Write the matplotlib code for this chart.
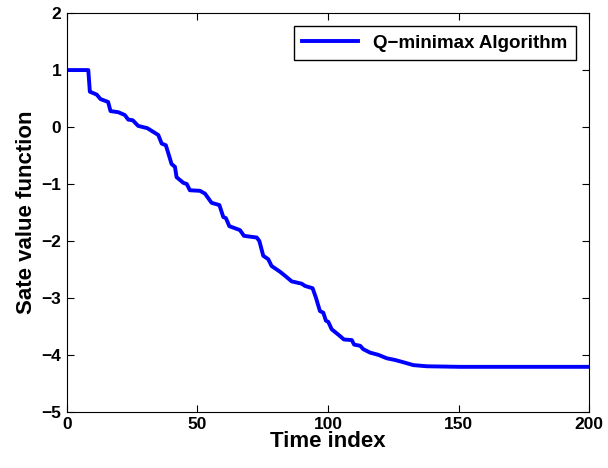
import numpy as np
import matplotlib.pyplot as plt

plt.rcParams['font.family'] = ['Liberation Sans', 'DejaVu Sans']

# values
time_index = [0, 8.2, 8.8, 11.4, 12.9, 15.8, 16.7, 19.7, 22.2, 23.5,
              25.2, 27.3, 30.8, 35, 36.3, 37.9, 40.1, 41.4, 42, 44.6,
              45.9, 47.1, 51, 52.9, 55.4, 58.4, 59.9, 60.9, 62.2, 66.3,
              67.8, 72.7, 73.7, 75.2, 77.1, 78.4, 81.6, 83.5, 86.1, 89.9,
              91.2, 94.1, 95.4, 96.9, 98.2, 99.2, 100.1, 101.4, 104.6, 106.1,
              109.1, 110, 112.3, 113.5, 116.1, 119.3, 122.5, 125.7, 128.9, 132.7,
              137.8, 150.6, 200]
state_value = [1, 1, 0.62, 0.57, 0.49, 0.44, 0.28, 0.26, 0.21, 0.13,
               0.12, 0.02, -0.02, -0.14, -0.29, -0.32, -0.65, -0.70, -0.88, -0.98,
               -1.0, -1.11, -1.12, -1.17, -1.33, -1.37, -1.58, -1.60, -1.74, -1.81,
               -1.91, -1.94, -2.0, -2.26, -2.32, -2.44, -2.54, -2.61, -2.71, -2.75,
               -2.79, -2.83, -3.0, -3.23, -3.26, -3.40, -3.42, -3.55, -3.67, -3.73,
               -3.74, -3.82, -3.84, -3.90, -3.96, -4.0, -4.06, -4.09, -4.13, -4.18,
               -4.20, -4.21, -4.21]

fig = plt.figure(figsize=(6.08, 4.68), dpi=100)
ax = fig.add_axes([0.110, 0.120, 0.859, 0.852])

ax.plot(time_index, state_value, color='#0000ff', lw=2.8, label='Q\u2212minimax Algorithm')

ax.set_xlim(0, 200)
ax.set_ylim(-5, 2)
ax.set_xticks([0, 50, 100, 150, 200])
ax.set_yticks(np.arange(-5, 3, 1))
ax.tick_params(direction='in', top=True, right=True, labelsize=12.5, length=5, pad=4)
for lab in ax.get_xticklabels() + ax.get_yticklabels():
    lab.set_fontweight('bold')

ax.set_xlabel('Time index', fontsize=16, fontweight='bold', labelpad=-1)
ax.set_ylabel('Sate value function', fontsize=16, fontweight='bold', labelpad=3)

leg = ax.legend(loc='upper right', fancybox=False, edgecolor='black',
                prop={'weight': 'bold', 'size': 13.5}, handlelength=3.0,
                borderaxespad=0.7, borderpad=0.45, framealpha=1)
leg.get_frame().set_linewidth(1.0)

fig.savefig('out.png', dpi=100)
